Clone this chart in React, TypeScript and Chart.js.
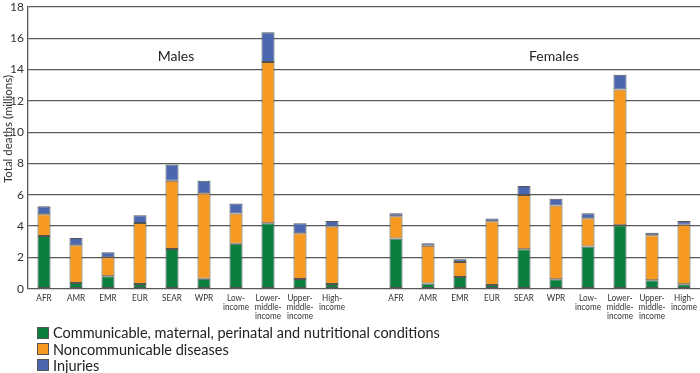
import React, { useEffect, useRef } from "react";
import { Chart, registerables } from "chart.js";

Chart.register(...registerables);

const categories: (string | string[])[] = [
  "AFR", "AMR", "EMR", "EUR", "SEAR", "WPR",
  ["Low-", "income"], ["Lower-", "middle-", "income"], ["Upper-", "middle-", "income"], ["High-", "income"],
  "",
  "AFR", "AMR", "EMR", "EUR", "SEAR", "WPR",
  ["Low-", "income"], ["Lower-", "middle-", "income"], ["Upper-", "middle-", "income"], ["High-", "income"],
];

const communicable = [
  3.37, 0.36, 0.79, 0.30, 2.54, 0.64, 2.88, 4.18, 0.62, 0.30,
  null,
  3.20, 0.34, 0.75, 0.24, 2.52, 0.60, 2.69, 4.06, 0.54, 0.28,
];
const noncommunicable = [
  1.39, 2.42, 1.22, 3.90, 4.35, 5.46, 1.92, 10.30, 2.92, 3.67,
  null,
  1.43, 2.41, 0.96, 4.07, 3.47, 4.71, 1.81, 8.67, 2.88, 3.81,
];
const injuries = [
  0.51, 0.46, 0.32, 0.50, 1.04, 0.79, 0.64, 1.90, 0.64, 0.36,
  null,
  0.19, 0.15, 0.17, 0.17, 0.58, 0.43, 0.32, 0.94, 0.16, 0.24,
];

const seriesNames = [
  "Communicable, maternal, perinatal and nutritional conditions",
  "Noncommunicable diseases",
  "Injuries",
];
const seriesColors = ["#0b7f3e", "#f7991f", "#4a67b0"];
const yTicks = [0, 2, 4, 6, 8, 10, 12, 14, 16, 18];
const groupLabels = ["Males", "Females"];
const yTitle = "Total deaths (millions)";

const FONT = "Lato, 'Noto Sans', sans-serif";

export default function App() {
  const ref = useRef<HTMLCanvasElement | null>(null);

  useEffect(() => {
    document.body.style.margin = "0";
    const canvas = ref.current;
    if (!canvas) return;

    const overlay = {
      id: "overlay",
      afterDraw(chart: any) {
        const ctx = chart.ctx;
        const xs = chart.scales.x;
        const ys = chart.scales.y;
        ctx.save();
        ctx.fillStyle = "#222";
        ctx.font = `14px ${FONT}`;
        ctx.textAlign = "center";
        ctx.textBaseline = "middle";
        ctx.fillText(groupLabels[0], xs.getPixelForValue(4) + 4, ys.getPixelForValue(14.85));
        ctx.fillText(groupLabels[1], xs.getPixelForValue(16) - 2, ys.getPixelForValue(14.85));

        // category labels (slightly condensed, like the original typeface)
        ctx.font = `9.5px ${FONT}`;
        ctx.fillStyle = "#333";
        const base = ys.bottom + 9;
        categories.forEach((lab, i) => {
          const lines = Array.isArray(lab) ? lab : [lab];
          const x = xs.getPixelForValue(i);
          lines.forEach((ln, k) => {
            ctx.save();
            ctx.translate(x, base + k * 9);
            ctx.scale(0.86, 1);
            ctx.fillText(ln, 0, 0);
            ctx.restore();
          });
        });

        ctx.translate(8, 129);
        ctx.rotate(-Math.PI / 2);
        ctx.font = `11.5px ${FONT}`;
        ctx.fillStyle = "#333";
        ctx.fillText(yTitle, 0, 0);
        ctx.restore();
      },
    };

    const mk = (i: number, data: (number | null)[]) => ({
      label: seriesNames[i],
      data,
      backgroundColor: seriesColors[i],
      borderColor: "#555",
      borderWidth: 1,
      borderSkipped: false as const,
      barPercentage: 0.8,
      categoryPercentage: 0.51,
    });

    const chart = new Chart(canvas, {
      type: "bar",
      data: {
        labels: categories,
        datasets: [mk(0, communicable), mk(1, noncommunicable), mk(2, injuries)],
      },
      options: {
        animation: false,
        responsive: false,
        maintainAspectRatio: false,
        layout: { padding: { top: 7, left: 0, right: 0, bottom: 0 } },
        plugins: { legend: { display: false }, tooltip: { enabled: false } },
        scales: {
          x: {
            stacked: true,
            grid: { display: false, drawTicks: false },
            border: { display: false },
            ticks: { display: false },
            afterFit(s: any) {
              s.height = 84.3;
              s.paddingLeft = 0;
              s.paddingRight = 0;
            },
          },
          y: {
            stacked: true,
            min: 0,
            max: 18,
            afterBuildTicks(s: any) { s.ticks = yTicks.map((v) => ({ value: v })); },
            grid: { color: "#5a5a5a", lineWidth: 1.3, drawTicks: false },
            border: { display: true, color: "#555", width: 1.3 },
            ticks: {
              color: "#333",
              font: { family: FONT, size: 12, lineHeight: 1.2 },
              padding: 4,
            },
            afterFit(s: any) {
              s.width = 28;
              s.paddingTop = 0;
              s.paddingBottom = 0;
            },
          },
        },
      },
      plugins: [overlay],
    });
    return () => chart.destroy();
  }, []);

  return (
    <div style={{ position: "absolute", left: 0, top: 0, width: 700, height: 373, fontFamily: FONT }}>
      <canvas ref={ref} width={700} height={373} style={{ display: "block" }} />
      {seriesNames.map((n, i) => (
        <div
          key={n}
          style={{
            position: "absolute",
            left: 37,
            top: 324.7 + i * 16.3,
            height: 16,
            display: "flex",
            alignItems: "center",
            whiteSpace: "nowrap",
            fontSize: 14.5,
            color: "#222",
          }}
        >
          <span
            style={{
              display: "inline-block",
              width: 10,
              height: 10,
              background: seriesColors[i],
              border: "1px solid #555",
              marginRight: 4,
            }}
          />
          {n}
        </div>
      ))}
    </div>
  );
}
